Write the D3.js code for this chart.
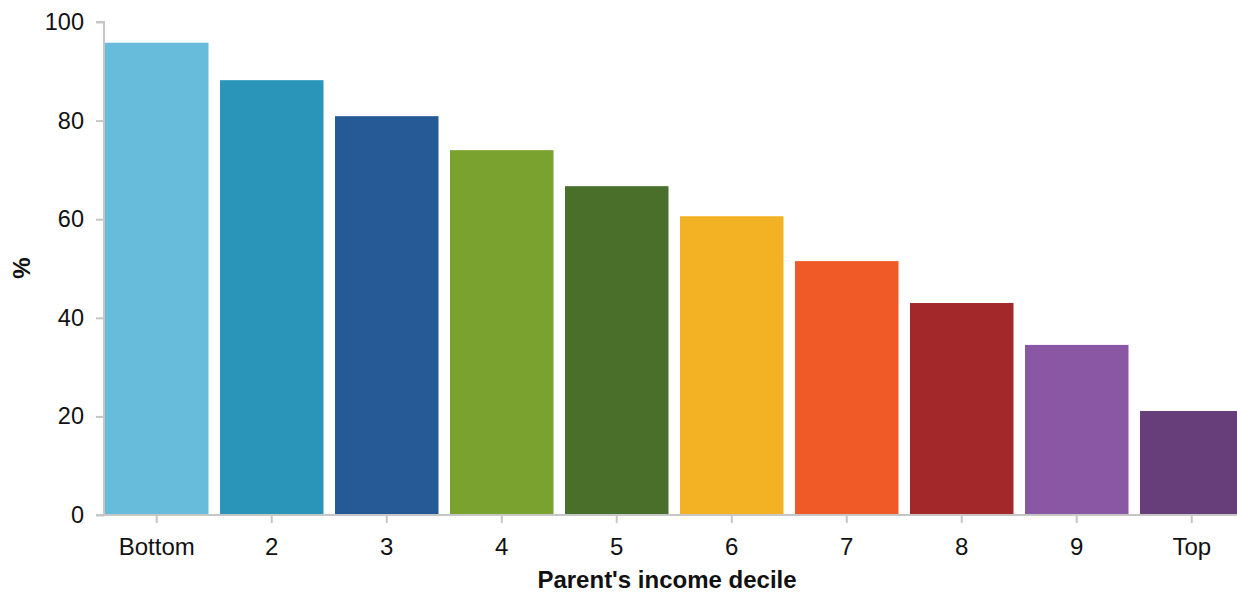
<!DOCTYPE html>
<html>
<head>
<meta charset="utf-8">
<script src="https://cdn.jsdelivr.net/npm/d3@7"></script>
<style>
  html, body { margin: 0; padding: 0; background: #fff; }
  svg { display: block; font-family: "Liberation Sans", Arial, sans-serif; }
</style>
</head>
<body>
<svg id="chart" width="1237" height="592"></svg>
<script>
const categories = ["Bottom", "2", "3", "4", "5", "6", "7", "8", "9", "Top"];
const values = [95.8, 88.2, 80.9, 74.0, 66.7, 60.6, 51.5, 43.0, 34.5, 21.1];
const colors = ["#67bcdb", "#2a95b8", "#265a97", "#7aa22f", "#4a6f2a", "#f3b223", "#f05a27", "#a3282a", "#8957a3", "#673e7a"];
const yTicks = [0, 20, 40, 60, 80, 100];
const xTitle = "Parent's income decile";
const yTitle = "%";

(function () {
const svg = d3.select("#chart");
const mLeft = 104, mTop = 22, mBottom = 515, mRight = 1243.5;

const x = d3.scaleBand().domain(categories).range([mLeft + 1, mRight]).paddingInner(0.1).paddingOuter(0);
const y = d3.scaleLinear().domain([0, 100]).range([mBottom, mTop]);

const axisColor = "#c6c6c6";
const fs = 24;

svg.append("g").selectAll("rect").data(categories).join("rect")
  .attr("x", d => x(d))
  .attr("y", (d, i) => y(values[i]))
  .attr("width", x.bandwidth())
  .attr("height", (d, i) => y(0) - y(values[i]))
  .attr("fill", (d, i) => colors[i]);

// Y axis
const yAxis = svg.append("g").attr("transform", `translate(${mLeft},0)`)
  .call(d3.axisLeft(y).tickValues(yTicks).tickSize(8).tickPadding(12));
yAxis.select(".domain").attr("stroke", axisColor).attr("stroke-width", 2).attr("d", `M-8,${mTop}H0V${mBottom}`);
yAxis.selectAll(".tick line").attr("stroke", axisColor).attr("stroke-width", 2);
yAxis.selectAll(".tick text").attr("font-size", fs - 0.5).attr("fill", "#111").attr("font-family", "Liberation Sans, Arial, sans-serif");

// X axis
const xAxis = svg.append("g").attr("transform", `translate(0,${mBottom})`)
  .call(d3.axisBottom(x).tickSize(8).tickPadding(15));
xAxis.select(".domain").attr("stroke", axisColor).attr("stroke-width", 2).attr("d", `M${mLeft - 8},0H1237`);
xAxis.selectAll(".tick line").attr("stroke", axisColor).attr("stroke-width", 2);
xAxis.selectAll(".tick text").attr("font-size", fs).attr("fill", "#111").attr("font-family", "Liberation Sans, Arial, sans-serif");

svg.append("text")
  .attr("x", 667).attr("y", 588)
  .attr("text-anchor", "middle")
  .attr("font-size", fs).attr("font-weight", "bold").attr("fill", "#111")
  .text(xTitle);

svg.append("text")
  .attr("transform", "translate(30,268) rotate(-90)")
  .attr("text-anchor", "middle")
  .attr("font-size", fs).attr("font-weight", "bold").attr("fill", "#111")
  .text(yTitle);
})();
</script>
</body>
</html>
